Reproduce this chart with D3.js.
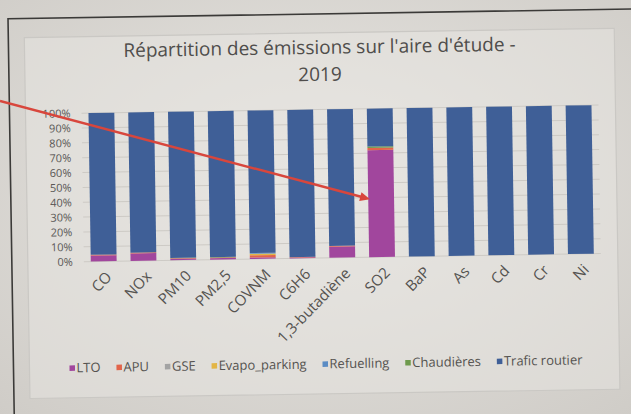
<!DOCTYPE html>
<html><head><meta charset="utf-8">
<script src="https://cdn.jsdelivr.net/npm/d3@7"></script>
<style>html,body{margin:0;padding:0;background:#dcdad6;} svg{display:block;}</style>
</head><body><svg id="c" width="631" height="414"></svg>
<script>
// Emission shares per pollutant (percent of total), by source
const categories = ["CO", "NOx", "PM10", "PM2,5", "COVNM", "C6H6", "1,3-butadiène", "SO2", "BaP", "As", "Cd", "Cr", "Ni"];
const seriesNames = ["LTO", "APU", "GSE", "Evapo_parking", "Refuelling", "Chaudières", "Trafic routier"];
const lto          = [4.0, 5.0, 1.0, 1.0, 1.0, 0.5, 7.5, 72.0, 0, 0, 0, 0, 0];
const apu          = [0.5, 0.5, 0.3, 0.3, 1.5, 0.3, 0.5, 1.5, 0, 0, 0, 0, 0];
const gse          = [0, 0, 0, 0, 0, 0, 0, 0, 0, 0, 0, 0, 0];
const evapoParking = [0, 0, 0, 0, 1.0, 0, 0, 0, 0, 0, 0, 0, 0];
const refuelling   = [0, 0, 0, 0, 0.5, 0, 0, 0, 0, 0, 0, 0, 0];
const chaudieres   = [0, 0, 0.3, 0.3, 0, 0, 0, 1.0, 0, 0, 0, 0, 0];
const traficRoutier= [95.5, 94.5, 98.4, 98.4, 96.0, 99.2, 92.0, 25.5, 100, 100, 100, 100, 100];
const yTickLabels  = ["0%", "10%", "20%", "30%", "40%", "50%", "60%", "70%", "80%", "90%", "100%"];
const yTickValues  = [0, 10, 20, 30, 40, 50, 60, 70, 80, 90, 100];
const titleLines   = ["Répartition des émissions sur l'aire d'étude -", "2019"];

const seriesValues = [lto, apu, gse, evapoParking, refuelling, chaudieres, traficRoutier];
const colors = ["#a1469d", "#e2644a", "#a3a3a3", "#e3b545", "#5b8cc4", "#6e9a4c", "#3f5f97"];

const rows = categories.map((c, i) => {
  const r = { cat: c };
  seriesNames.forEach((s, k) => r[s] = seriesValues[k][i]);
  return r;
});
const stacked = d3.stack().keys(seriesNames)(rows);

const svg = d3.select("#c");
const defs = svg.append("defs");
const bg = defs.append("radialGradient").attr("id", "paper").attr("cx", "50%").attr("cy", "45%").attr("r", "75%");
bg.append("stop").attr("offset", "0%").attr("stop-color", "#e8e6e2");
bg.append("stop").attr("offset", "100%").attr("stop-color", "#cfccc7");
svg.append("rect").attr("width", 631).attr("height", 414).attr("fill", "url(#paper)");

const g = svg.append("g").attr("transform", "rotate(-0.9,315,207)");

// page frame and chart box
g.append("path").attr("d", "M11,420 L11,14 L640,14").attr("fill", "none").attr("stroke", "#3b3a38").attr("stroke-width", 1.6);
g.append("rect").attr("x", 27).attr("y", 33).attr("width", 590).attr("height", 361)
  .attr("fill", "#e7e5e1").attr("fill-opacity", 0.5).attr("stroke", "#cac8c4").attr("stroke-width", 1.2);

const x = d3.scaleBand().domain(categories).range([83, 600]).paddingInner(0.35).paddingOuter(0.175);
const y = d3.scaleLinear().domain([0, 100]).range([258, 109.5]);

// gridlines
g.append("g").selectAll("line").data(yTickValues).join("line")
  .attr("x1", 83).attr("x2", 600).attr("y1", d => y(d)).attr("y2", d => y(d))
  .attr("stroke", "#cdcac5").attr("stroke-width", 1);

// y axis labels
const yAxis = d3.axisLeft(y).tickValues(yTickValues).tickFormat((d, i) => yTickLabels[i]).tickSize(0).tickPadding(0);
const ya = g.append("g").attr("transform", "translate(72,0)").call(yAxis);
ya.select(".domain").remove();
ya.selectAll("text").attr("font-family", "'Open Sans',sans-serif")
  .attr("font-size", 11).attr("fill", "#5a5856");

// stacked bars
g.append("g").selectAll("g").data(stacked).join("g")
  .attr("fill", (d, i) => colors[i])
  .selectAll("rect").data(d => d).join("rect")
  .attr("x", d => x(d.data.cat)).attr("width", x.bandwidth())
  .attr("y", d => y(d[1])).attr("height", d => Math.max(0, y(d[0]) - y(d[1])));

// x axis labels
const xAxis = d3.axisBottom(x).tickSize(0).tickPadding(0);
const xa = g.append("g").attr("transform", "translate(0,271)").call(xAxis);
xa.select(".domain").remove();
xa.selectAll("text").attr("font-family", "'Open Sans',sans-serif").attr("font-size", 15).attr("fill", "#555350")
  .attr("text-anchor", "end").attr("dy", "0.35em").attr("transform", "translate(5,0) rotate(-45)");

// title
g.append("g").selectAll("text").data(titleLines).join("text")
  .attr("x", 322).attr("y", (d, i) => 54 + i * 27)
  .attr("text-anchor", "middle").attr("font-family", "'Open Sans',sans-serif").attr("font-size", 19)
  .attr("fill", "#4f4d4b").text(d => d);

// legend
const lg = g.append("g").attr("transform", "translate(0,364)");
const items = lg.selectAll("g").data(seriesNames).join("g");
items.append("rect").attr("width", 5.5).attr("height", 5.5).attr("y", -2.5).attr("fill", (d, i) => colors[i]);
items.append("text").attr("x", 7).attr("dy", "0.35em").attr("font-family", "'Open Sans',sans-serif")
  .attr("font-size", 13).attr("fill", "#555350").text(d => d);
let widths = [];
items.each(function() { widths.push(d3.select(this).select("text").node().getComputedTextLength() + 7); });
const total = 580 - 67;
const gap = (total - d3.sum(widths)) / (seriesNames.length - 1);
let cx = 67;
items.attr("transform", (d, i) => { const t = `translate(${cx},0)`; cx += widths[i] + gap; return t; });

// red annotation arrow
svg.append("line").attr("x1", 0).attr("y1", 101).attr("x2", 362).attr("y2", 197)
  .attr("stroke", "#d8463c").attr("stroke-width", 2.4);
const ang = Math.atan2(197 - 101, 362 - 0);
const tip = [370, 199.2];
const L = 10, W = 4.5;
const base = [tip[0] - L * Math.cos(ang), tip[1] - L * Math.sin(ang)];
svg.append("polygon").attr("points", [
  tip,
  [base[0] + W * Math.sin(ang), base[1] - W * Math.cos(ang)],
  [base[0] - W * Math.sin(ang), base[1] + W * Math.cos(ang)]
].map(p => p.join(",")).join(" ")).attr("fill", "#d8463c");
</script></body></html>
